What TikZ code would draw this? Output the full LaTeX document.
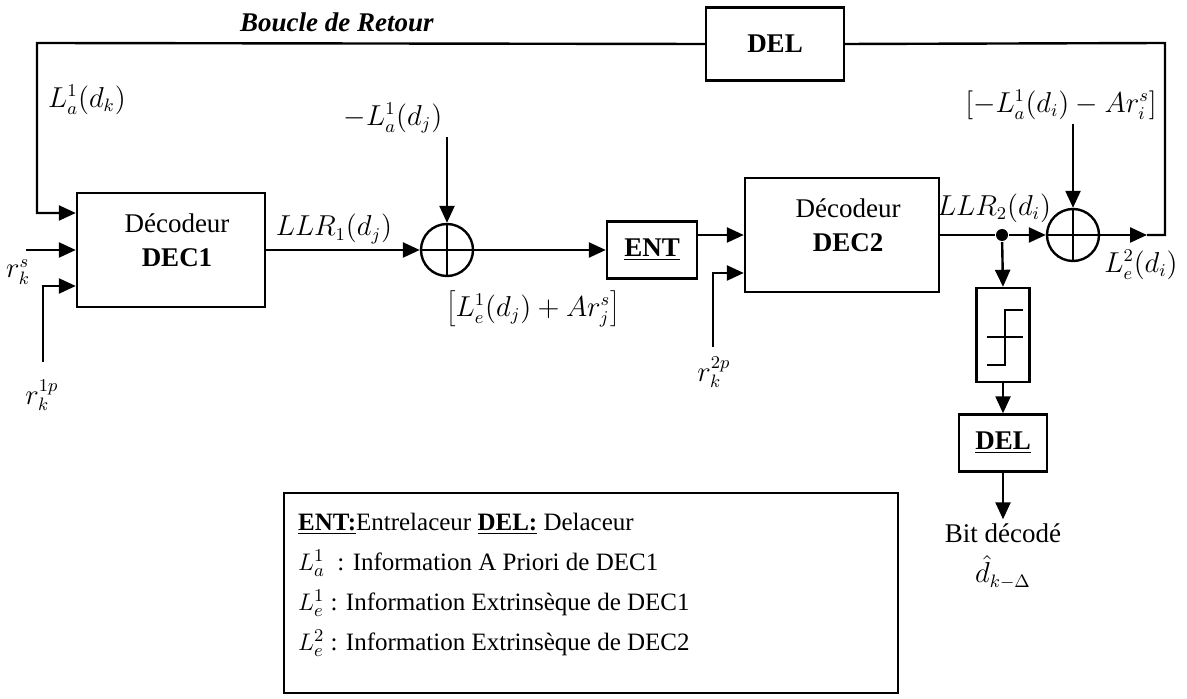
\documentclass[tikz,border=0pt]{standalone}
\usepackage{fontspec}
\setmainfont{Liberation Serif}
\usetikzlibrary{arrows.meta}

\begin{document}
\begin{tikzpicture}[x=0.5pt, y=-0.5pt, line width=1.2pt,
  >={Triangle[length=8.5pt,width=7.5pt]},
  every node/.style={font=\fontsize{13.5}{17}\selectfont, inner sep=1.5pt},
  blk/.style={draw, inner sep=0pt},
  sum/.style={draw, circle, inner sep=0pt, minimum size=26pt}]

\useasboundingbox (0,0) rectangle (1187,699);

% blocs
\node[blk, minimum width=94pt, minimum height=57pt] (dec1) at (171,250) {};
\node[align=center] (dec1txt) at (177,240) {Décodeur\\\textbf{DEC1}};
\node[blk, minimum width=45pt, minimum height=28.5pt] (ent) at (652,250) {\underline{\textbf{ENT}}};
\node[blk, minimum width=97pt, minimum height=57pt] (dec2) at (842,235) {};
\node[align=center] (dec2txt) at (848,225) {Décodeur\\\textbf{DEC2}};
\node[blk, minimum width=69pt, minimum height=36.5pt] (del1) at (775,44) {\textbf{DEL}};
\node[blk, minimum width=26.5pt, minimum height=47pt] (thr) at (1003,335) {};
\node[blk, minimum width=44pt, minimum height=28.5pt] (del2) at (1003,443) {\underline{\textbf{DEL}}};

% sommateurs
\node[sum] (s1) at (447,250) {};
\node[sum] (s2) at (1073,235) {};
\draw (s1.north) -- (s1.south) (s1.west) -- (s1.east);
\draw (s2.north) -- (s2.south) (s2.west) -- (s2.east);
\node[circle, fill, inner sep=0pt, minimum size=6pt] (jn) at (1002,235) {};

% seuil
\draw (987,365) -- (1005,365) -- (1005,310) -- (1023,310);
\draw (987,337) -- (1023,337);

% labels
\node (boucle) at (337,22) {\textbf{\textit{Boucle de Retour}}};
\node (lak) at (87,100) {$L_a^1(d_k)$};
\node (rs) at (18,272) {$r_k^s$};
\node (r1p) at (42,395) {$r_k^{1p}$};
\node (llr1) at (334,229) {$LLR_1(d_j)$};
\node (lad) at (393,118) {$-L_a^1(d_j)$};
\node (lesum) at (533,309) {$\left[L_e^1(d_j)+Ar_j^s\right]$};
\node (r2p) at (714,372) {$r_k^{2p}$};
\node (llr2) at (994,208) {$LLR_2(d_i)$};
\node (lasum) at (1061,105) {$\left[-L_a^1(d_i)-Ar_i^s\right]$};
\node (le2) at (1141,265) {$L_e^2(d_i)$};
\node (bit) at (1003,533) {Bit décodé};
\node (dhat) at (1003,572) {$\hat{d}_{k-\Delta}$};

% points libres
\coordinate (tl) at (37,43);
\coordinate (tr) at (1165,43);
\coordinate (br) at (1165,235);
\coordinate (s2out) at (1147,235);
\coordinate (rsin) at (26,250);
\coordinate (r1pin) at (43,362);
\coordinate (r2pin) at (713,347);
\coordinate (la1in) at (447,137);
\coordinate (la2in) at (1073,124);

% fleches
\draw[->] (del1.west) -- (tl) |- ([yshift=18.5pt]dec1.west);
\draw[->] (rsin) -- (dec1.west);
\draw[->] (r1pin) |- ([yshift=-18pt]dec1.west);
\draw[->] (dec1.east) -- (s1.west);
\draw[->] (la1in) -- (s1.north);
\draw[->] (s1.east) -- (ent.west);
\draw[->] ([yshift=7.5pt]ent.east) -- (dec2.west);
\draw[->] (r2pin) |- ([yshift=-19pt]dec2.west);
\draw (dec2.east) -- (jn);
\draw[->] (jn) -- (s2.west);
\draw[->] (la2in) -- (s2.north);
\draw[->] (s2.east) -- (s2out);
\draw (s2out) -- (br) -- (tr) -- (del1.east);
\draw[->] (jn) -- (thr.north);
\draw[->] (thr.south) -- (del2.north);
\draw[->] (del2.south) -- (bit);

% legende
\node[draw, minimum width=307pt, minimum height=100pt, anchor=north west] (leg) at (283,492) {};
\node[anchor=north west, align=left, inner sep=0pt,
  font=\fontsize{12.5}{20}\selectfont] (legtxt) at (297,512)
  {\underline{\textbf{ENT:}}Entrelaceur \underline{\textbf{DEL:}} Delaceur\\
   $L_a^1$\ \ : Information A Priori de DEC1\\
   $L_e^1$ : Information Extrinsèque de DEC1\\
   $L_e^2$ : Information Extrinsèque de DEC2};

\end{tikzpicture}
\end{document}
